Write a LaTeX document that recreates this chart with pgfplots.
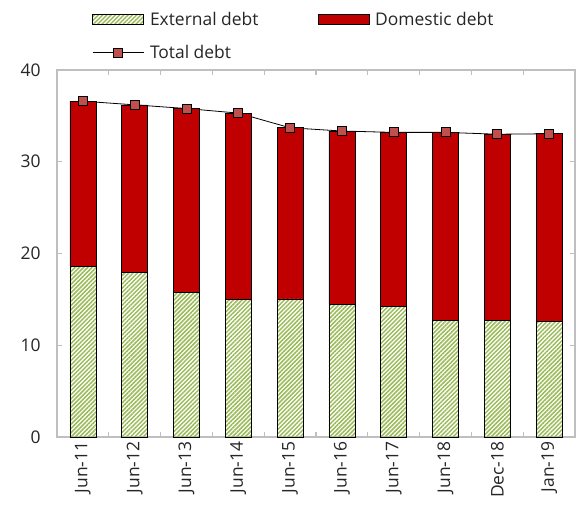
\documentclass[border=0pt]{standalone}
\usepackage{fontspec}
\setmainfont{Open Sans}
\usepackage{pgfplots}
\pgfplotsset{compat=1.18}
\usetikzlibrary{patterns.meta}
\definecolor{domred}{RGB}{192,0,0}
\definecolor{extgreen}{RGB}{155,187,89}
\definecolor{mkred}{RGB}{192,80,77}
\definecolor{axgrey}{RGB}{191,191,191}
\pgfplotsset{
  barlegend/.style={legend image code/.code={\draw[##1] (0bp,-5bp) rectangle (51bp,5bp);}},
  linelegend/.style={legend image code/.code={%
    \draw[##1,mark=none] (0bp,0bp) -- (51bp,0bp);
    \draw[##1,only marks] plot coordinates {(25.5bp,0bp)};}},
}
\begin{document}
\begin{tikzpicture}
\begin{axis}[
  scale only axis,
  width=518bp, height=367bp,
  ybar stacked,
  bar width=26bp,
  xmin=-0.5, xmax=9.5,
  ymin=0, ymax=40,
  ytick={0,10,20,30,40},
  xtick={0,...,9},
  xticklabels={Jun-11,Jun-12,Jun-13,Jun-14,Jun-15,Jun-16,Jun-17,Jun-18,Dec-18,Jan-19},
  minor xtick={0.5,1.5,...,8.5},
  major x tick style={draw=none},
  minor x tick style={draw=axgrey,line width=1.2bp},
  major y tick style={draw=axgrey,line width=1.2bp},
  major tick length=5bp,
  minor tick length=5bp,
  tick align=inside,
  axis line style={draw=axgrey,line width=1.5bp},
  /pgf/number format/assume math mode=true,
  tick label style={font=\fontsize{17.5}{21}\selectfont, text=black!85},
  xticklabel style={rotate=90, anchor=east, xshift=-1bp},
  yticklabel style={xshift=-13bp},
  legend style={at={(rel axis cs:0.0676,1.163)}, anchor=north west, draw=none, fill=none,
    font=\fontsize{17.5}{21}\selectfont, text=black!85,
    /tikz/every even column/.append style={column sep=57bp},
    /tikz/every odd column/.append style={column sep=4bp},
    row sep=14bp, inner sep=0pt},
  legend columns=2,
  legend cell align=left,
  clip=false,
]
\addplot[barlegend, draw=black, line width=0.7bp,
  pattern={Lines[angle=45,distance=3bp,line width=1.5bp]}, pattern color=extgreen]
  coordinates {(0,18.6) (1,17.9) (2,15.8) (3,14.95) (4,15.05) (5,14.45) (6,14.2) (7,12.75) (8,12.7) (9,12.6)};
\addlegendentry{External debt}
\addplot[barlegend, draw=black, line width=0.7bp, fill=domred]
  coordinates {(0,18.0) (1,18.3) (2,20.0) (3,20.35) (4,18.65) (5,18.9) (6,19.0) (7,20.45) (8,20.3) (9,20.45)};
\addlegendentry{Domestic debt}
\addplot[linelegend, stack plots=false, sharp plot, black, line width=0.8bp,
  mark=square*, mark size=4.5bp, mark options={draw=none, fill=mkred}]
  coordinates {(0,36.6) (1,36.2) (2,35.8) (3,35.3) (4,33.7) (5,33.35) (6,33.2) (7,33.2) (8,33.0) (9,33.05)};
\addlegendentry{Total debt}
\end{axis}
\pgfresetboundingbox
\path ([xshift=-57bp,yshift=-71bp]current axis.south west) rectangle ([xshift=519bp,yshift=437bp]current axis.south west);
\end{tikzpicture}
\end{document}
